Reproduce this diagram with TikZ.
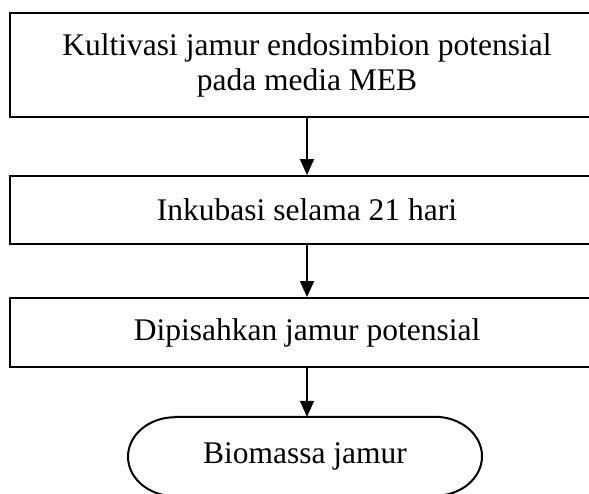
\documentclass[tikz,border=0pt]{standalone}
\usepackage{fontspec}
\setmainfont{Liberation Serif}
\usetikzlibrary{arrows.meta}
\begin{document}
\begin{tikzpicture}[x=1pt,y=1pt,
  every node/.style={font=\fontsize{31.5}{35}\selectfont},
  procbox/.style={draw=black,line width=2pt,rectangle,minimum width=594pt,inner sep=0pt,align=center},
  termbox/.style={rectangle,minimum width=354pt,minimum height=79pt,inner sep=0pt},
  termline/.style={draw=black,line width=2pt},
  arr/.style={draw=black,line width=2pt,-{Triangle[width=14pt,length=16pt]}}]
\clip (0,0) rectangle (589,-493);
\fill[white] (0,0) rectangle (589,-493);
\node[procbox,minimum height=104pt] (b1) at (307,-65) {Kultivasi jamur endosimbion potensial\\pada media MEB};
\node[procbox,minimum height=68pt] (b2) at (307,-210) {Inkubasi selama 21 hari};
\node[procbox,minimum height=69pt] (b3) at (307,-332.5) {Dipisahkan jamur potensial};
\node[termbox] (t) at (305,-456.5) {Biomassa jamur};
\draw[termline] ([xshift=-130pt]t.north) -- ([xshift=130pt]t.north)
  arc[start angle=90,end angle=-90,x radius=47pt,y radius=39.5pt]
  -- ([xshift=-130pt]t.south)
  arc[start angle=270,end angle=90,x radius=47pt,y radius=39.5pt] -- cycle;
\draw[arr] (b1.south) -- (b2.north);
\draw[arr] (b2.south) -- (b3.north);
\draw[arr] (b3.south) -- (t.north -| b3.south);
\end{tikzpicture}
\end{document}
